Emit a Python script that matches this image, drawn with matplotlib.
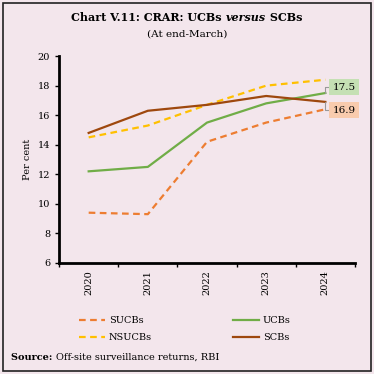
import matplotlib.pyplot as plt
from matplotlib.patches import Rectangle

years = ['2020', '2021', '2022', '2023', '2024']
sucbs = [9.4, 9.3, 14.2, 15.5, 16.4]
nsucbs = [14.5, 15.3, 16.7, 18.0, 18.4]
ucbs = [12.2, 12.5, 15.5, 16.8, 17.5]
scbs = [14.8, 16.3, 16.7, 17.3, 16.9]

bg = '#F3E6EC'
plt.rcParams['font.family'] = ['DejaVu Serif']

fig = plt.figure(figsize=(3.74, 3.74), dpi=100, facecolor=bg)
fig.patches.append(Rectangle((0.008, 0.008), 0.984, 0.984, transform=fig.transFigure,
                             fill=False, edgecolor='#222222', lw=1.2))

ax = fig.add_axes([0.158, 0.297, 0.791, 0.553])
ax.set_facecolor(bg)
x = list(range(len(years)))

ax.plot(x, sucbs, color='#ED7D31', ls=(0, (3, 2)), lw=1.6, label='SUCBs')
ax.plot(x, nsucbs, color='#FFC000', ls=(0, (3, 2)), lw=1.6, label='NSUCBs')
ax.plot(x, ucbs, color='#70AD47', lw=1.6, label='UCBs')
ax.plot(x, scbs, color='#9E480E', lw=1.6, label='SCBs')

ax.set_xlim(-0.5, len(years) - 0.5)
ax.set_ylim(6, 20)
ax.set_yticks(range(6, 21, 2))
ax.set_xticks([i - 0.5 for i in range(len(years) + 1)], minor=False)
ax.set_xticklabels([''] * (len(years) + 1))
ax.set_xticks(x, minor=True)
ax.set_xticklabels(years, minor=True, rotation=90, fontsize=7)
ax.tick_params(axis='x', which='minor', length=0, pad=5)
ax.tick_params(axis='x', which='major', length=3, width=1)
ax.tick_params(axis='y', labelsize=7, length=3, width=1)
for s in ['top', 'right']:
    ax.spines[s].set_visible(False)
for s in ['left', 'bottom']:
    ax.spines[s].set_linewidth(2)
ax.set_ylabel('Per cent', fontsize=7)

# end labels
ax.annotate(f'{ucbs[-1]:.1f}', xy=(x[-1], ucbs[-1]), xytext=(x[-1] + 0.12, 17.9),
            fontsize=7.5, va='center', ha='left',
            bbox=dict(boxstyle='square,pad=0.35', fc='#C5E0B4', ec='none'),
            arrowprops=dict(arrowstyle='-', color='#999999', lw=0.8, shrinkA=0, shrinkB=0,
                            connectionstyle='angle,angleA=180,angleB=90,rad=0'),
            annotation_clip=False)
ax.annotate(f'{scbs[-1]:.1f}', xy=(x[-1], scbs[-1]), xytext=(x[-1] + 0.12, 16.35),
            fontsize=7.5, va='center', ha='left',
            bbox=dict(boxstyle='square,pad=0.35', fc='#F8CBAD', ec='none'),
            arrowprops=dict(arrowstyle='-', color='#999999', lw=0.8, shrinkA=0, shrinkB=0,
                            connectionstyle='angle,angleA=180,angleB=90,rad=0'),
            annotation_clip=False)

fig.legend(loc='upper left', bbox_to_anchor=(0.2, 0.165), ncol=2, frameon=False,
           fontsize=7, handlelength=2.7, handletextpad=0.4, columnspacing=8.3,
           labelspacing=0.85, borderaxespad=0)

# title pieces laid out side by side
r = fig.canvas.get_renderer()
parts = [('Chart V.11: CRAR: UCBs ', 'normal'), ('versus', 'italic'), (' SCBs', 'normal')]
texts = [fig.text(0, 0.952, p, fontsize=8, fontweight='bold', style=st, va='center')
         for p, st in parts]
widths = [t.get_window_extent(r).width / fig.bbox.width for t in texts]
xpos = 0.5 - sum(widths) / 2
for t, w in zip(texts, widths):
    t.set_x(xpos)
    xpos += w
fig.text(0.5, 0.909, '(At end-March)', fontsize=7.5, ha='center', va='center')

src = fig.text(0.03, 0.045, 'Source: ', fontsize=7, fontweight='bold', va='center')
sw = src.get_window_extent(r).width / fig.bbox.width
fig.text(0.03 + sw, 0.045, 'Off-site surveillance returns, RBI', fontsize=7, va='center')

fig.savefig('out.png', dpi=100, facecolor=bg)
